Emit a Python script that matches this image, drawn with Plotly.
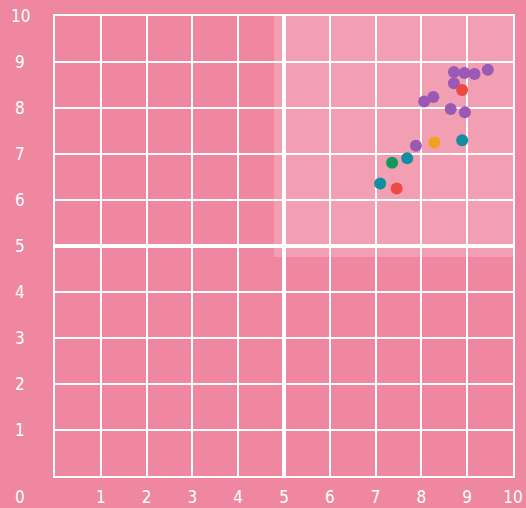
import plotly.graph_objects as go

# point groups
purple_x = [8.71, 8.94, 9.16, 9.45, 8.71, 8.26, 8.06, 8.64, 8.95, 7.88]
purple_y = [8.78, 8.76, 8.74, 8.83, 8.54, 8.24, 8.14, 7.98, 7.91, 7.18]
red_x = [8.89, 7.46]
red_y = [8.39, 6.25]
teal_x = [8.89, 7.69, 7.10]
teal_y = [7.30, 6.91, 6.36]
green_x = [7.36]
green_y = [6.81]
orange_x = [8.28]
orange_y = [7.25]

tick_vals = [1, 2, 3, 4, 5, 6, 7, 8, 9, 10]
tick_text = [str(v) for v in tick_vals]

BG = "#ef87a0"
LABEL_FONT = dict(family="Liberation Sans Narrow, DejaVu Sans Condensed, Roboto",
                  size=17, color="white")

groups = [
    (purple_x, purple_y, "#9b59b6"),
    (red_x, red_y, "#ee4a42"),
    (teal_x, teal_y, "#128ea3"),
    (green_x, green_y, "#13975b"),
    (orange_x, orange_y, "#f0a022"),
]

fig = go.Figure()
for xs, ys, color in groups:
    fig.add_trace(go.Scatter(
        x=xs, y=ys, mode="markers",
        marker=dict(size=12, color=color, line=dict(width=0)),
        showlegend=False, hoverinfo="skip",
    ))

# lighter upper-right quadrant panel
fig.add_shape(type="rect", x0=4.78, x1=10.15, y0=4.76, y1=10.22,
              xref="x", yref="y", layer="below", line=dict(width=0),
              fillcolor="rgba(255,255,255,0.2)")
# heavy centre lines
fig.add_shape(type="line", x0=5, x1=5, y0=0, y1=10, xref="x", yref="y",
              line=dict(color="white", width=4), layer="between")
fig.add_shape(type="line", x0=0, x1=10, y0=5, y1=5, xref="x", yref="y",
              line=dict(color="white", width=4), layer="between")

# y labels sit centred left of the grid, plus a shared corner "0"
for v, t in zip(tick_vals, tick_text):
    fig.add_annotation(x=-0.076, xref="paper", y=v, yref="y", text=t,
                       showarrow=False, font=LABEL_FONT, xanchor="center")
fig.add_annotation(x=-0.076, xref="paper", y=-0.046, yref="paper", text="0",
                   showarrow=False, font=LABEL_FONT, xanchor="center",
                   yanchor="middle")

fig.update_xaxes(range=[0, 10], tickvals=tick_vals, ticktext=tick_text,
                 showgrid=True, gridcolor="white", gridwidth=2,
                 showline=True, linecolor="white", linewidth=2, mirror=True,
                 zeroline=False, ticks="", ticklabelstandoff=5,
                 tickfont=LABEL_FONT, fixedrange=True, automargin=False)
fig.update_yaxes(range=[0, 10], tickvals=tick_vals, showticklabels=False,
                 showgrid=True, gridcolor="white", gridwidth=2,
                 showline=True, linecolor="white", linewidth=2, mirror=True,
                 zeroline=False, ticks="", fixedrange=True, automargin=False)

fig.update_layout(
    width=526, height=508,
    margin=dict(l=55, r=13, t=16, b=32),
    paper_bgcolor=BG, plot_bgcolor=BG,
    font=LABEL_FONT,
)

fig.write_html(
    "out.html",
    config={"displayModeBar": False},
    post_script="document.body.style.margin='0';"
                "document.body.style.overflow='hidden';"
                "document.body.style.background='%s';" % BG,
)
